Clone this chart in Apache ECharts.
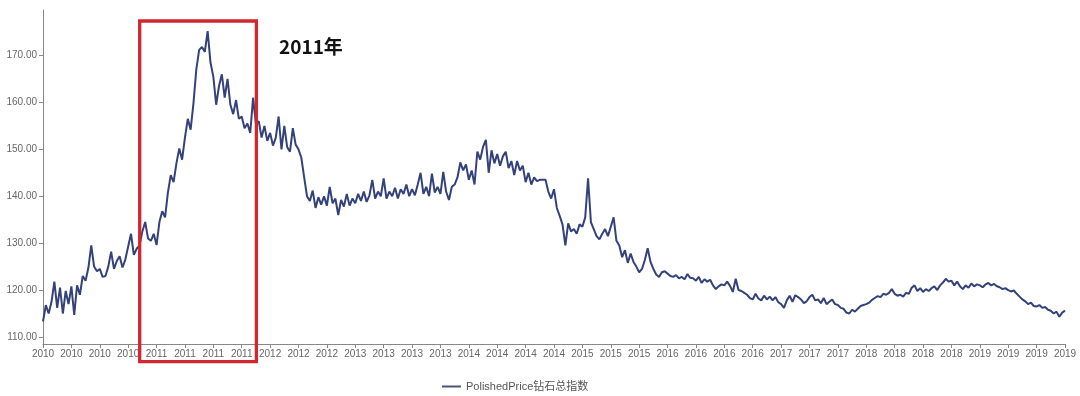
<!DOCTYPE html>
<html>
<head>
<meta charset="utf-8">
<script src="https://cdn.jsdelivr.net/npm/echarts@6/dist/echarts.min.js"></script>
<style>
  html, body { margin: 0; padding: 0; background: #ffffff; }
  #chart { width: 1080px; height: 396px; }
</style>
</head>
<body>
<div id="chart"></div>
<script>
// Tick labels along the x axis (one per 10 data points)
const tickLabels = [
  '2010','2010','2010','2010','2011','2011','2011','2011','2012','2012','2012',
  '2013','2013','2013','2013','2014','2014','2014','2014','2015','2015','2015',
  '2016','2016','2016','2016','2017','2017','2017','2018','2018','2018','2018',
  '2019','2019','2019','2019'
];
const pointsPerTick = 10;

const seriesName = 'PolishedPrice钻石总指数';

// PolishedPrice index values
const polishedPrice = [
  113.3, 116.8, 115.0, 117.5, 121.8, 116.2, 120.5, 115.0, 119.8, 117.0,
  120.8, 114.7, 121.0, 119.0, 123.0, 122.0, 124.8, 129.5, 125.0, 124.0,
  124.5, 122.8, 123.0, 125.0, 128.2, 124.5, 126.2, 127.2, 124.8, 126.5,
  129.3, 132.0, 127.5, 128.8, 129.5, 132.5, 134.5, 131.0, 130.5, 132.0,
  129.6, 134.5, 136.8, 135.5, 140.8, 144.5, 143.0, 147.0, 150.2, 147.8,
  152.5, 156.5, 154.2, 159.8, 167.0, 171.2, 171.8, 170.8, 175.2, 168.5,
  165.5, 159.5, 163.5, 166.0, 161.0, 165.0, 159.5, 157.5, 160.5, 156.5,
  157.0, 154.5, 155.5, 153.5, 161.0, 155.5, 156.0, 152.5, 155.0, 151.8,
  153.5, 150.8, 152.5, 157.0, 150.0, 155.0, 150.5, 149.5, 154.5, 151.0,
  150.0, 148.2, 144.0, 140.0, 139.0, 141.2, 137.5, 139.8, 138.2, 140.0,
  138.0, 142.0, 138.5, 139.5, 136.0, 139.2, 137.8, 140.5, 138.0, 139.5,
  138.5, 140.5, 139.0, 141.0, 138.8, 140.2, 143.5, 139.5, 141.0, 140.0,
  143.8, 139.5, 141.0, 140.0, 141.8, 139.5, 141.5, 140.5, 142.5, 140.0,
  141.5, 140.2, 142.5, 145.0, 140.5, 142.0, 140.0, 144.8, 140.8, 142.0,
  140.5, 145.2, 141.0, 139.2, 142.0, 142.5, 144.0, 147.2, 145.5, 146.8,
  143.5, 145.5, 142.5, 149.5, 147.8, 150.5, 152.0, 145.0, 149.8, 147.0,
  149.0, 146.5, 148.5, 149.5, 146.0, 147.5, 144.5, 147.5, 145.5, 146.5,
  143.0, 145.0, 142.5, 144.0, 143.2, 143.5, 143.5, 143.5, 141.0, 139.5,
  141.5, 137.5, 135.8, 134.0, 129.5, 134.2, 132.5, 133.0, 132.0, 134.0,
  133.5, 135.5, 143.8, 134.5, 133.0, 131.5, 130.8, 132.0, 133.0, 131.5,
  133.5, 135.5, 130.5, 129.5, 127.0, 128.5, 125.8, 127.8, 126.0, 125.0,
  123.8, 124.5, 126.4, 128.9, 126.0, 124.5, 123.3, 122.8, 123.8, 124.0,
  123.5, 123.0, 122.8, 123.2, 122.5, 122.8, 122.3, 123.4, 122.6, 122.5,
  122.0, 122.8, 121.5, 122.3, 121.8, 122.2, 121.0, 120.2, 120.8, 121.2,
  121.0, 121.8, 120.9, 119.6, 122.4, 120.0, 119.8, 119.4, 119.0, 118.3,
  118.0, 119.2, 118.2, 117.8, 118.8, 118.0, 118.6, 117.8, 118.5, 117.4,
  117.0, 116.2, 117.8, 118.8, 117.5, 118.9, 118.5, 118.0, 117.2, 117.6,
  118.5, 119.0, 117.8, 118.0, 117.2, 118.3, 117.0, 117.5, 118.0, 117.0,
  116.8, 116.2, 116.0, 115.2, 115.0, 115.8, 115.4, 116.0, 116.6, 116.8,
  117.0, 117.3, 117.9, 118.3, 118.7, 118.5, 119.2, 119.0, 119.4, 120.2,
  119.2, 118.8, 119.0, 118.6, 119.4, 119.2, 120.5, 121.0, 119.8, 120.4,
  119.6, 120.2, 119.8, 120.4, 120.8, 120.0, 121.0, 121.6, 122.4, 121.8,
  122.0, 121.0, 121.8, 120.8, 120.2, 121.0, 120.5, 121.4, 120.8, 121.2,
  121.0, 120.6, 121.2, 121.5, 121.0, 121.3, 120.8, 120.6, 120.2, 120.4,
  120.0, 119.7, 119.9, 119.2, 118.6, 118.0, 117.6, 117.0, 117.3, 116.6,
  116.5, 116.8, 116.2, 116.4, 115.8, 115.6, 115.0, 115.4, 114.3, 115.2,
  115.6
];

// Category for each point: the year label of its tick segment
const categories = polishedPrice.map((_, i) => tickLabels[Math.floor(i / pointsPerTick)]);

const chart = echarts.init(document.getElementById('chart'), null, { renderer: 'canvas' });
const fontFamily = "'Liberation Sans', 'Noto Sans CJK SC', sans-serif";

chart.setOption({
  animation: false,
  backgroundColor: '#ffffff',
  grid: { left: 43, right: 15, top: 10, bottom: 52, containLabel: false },
  legend: {
    data: [seriesName],
    left: 437,
    top: 376,
    itemWidth: 19,
    itemHeight: 14,
    icon: 'path://M0,6 L19,6 L19,8 L0,8 Z',
    textStyle: { color: '#555', fontSize: 11, fontFamily: fontFamily }
  },
  xAxis: {
    type: 'category',
    data: categories,
    boundaryGap: false,
    axisLine: { show: true, lineStyle: { color: '#888', width: 1 } },
    axisTick: { show: true, interval: pointsPerTick - 1, length: 4, lineStyle: { color: '#888' } },
    axisLabel: {
      interval: pointsPerTick - 1,
      margin: 5,
      color: '#666',
      fontSize: 10,
      fontFamily: fontFamily
    },
    splitLine: { show: false }
  },
  yAxis: {
    type: 'value',
    min: 108.5,
    max: 179.7,
    axisLine: { show: true, lineStyle: { color: '#888', width: 1 } },
    axisTick: { show: true, length: 4, lineStyle: { color: '#888' } },
    axisLabel: {
      showMinLabel: false,
      showMaxLabel: false,
      margin: 6,
      color: '#666',
      fontSize: 10,
      fontFamily: fontFamily,
      formatter: v => v.toFixed(2)
    },
    splitLine: { show: false }
  },
  series: [{
    name: seriesName,
    type: 'line',
    data: polishedPrice,
    symbol: 'none',
    showSymbol: false,
    lineStyle: { color: '#34427a', width: 2 },
    itemStyle: { color: '#4a5578' }
  }],
  graphic: [
    {
      type: 'rect',
      shape: { x: 139.7, y: 21, width: 116.7, height: 340.7 },
      style: { fill: 'none', stroke: '#d0282e', lineWidth: 3.3 },
      z: 100
    },
    {
      type: 'text',
      x: 279,
      y: 47,
      style: {
        text: '2011年',
        fill: '#111',
        font: "bold 19px 'Noto Sans CJK SC', 'Liberation Sans', sans-serif",
        verticalAlign: 'middle',
        align: 'left'
      },
      z: 100
    }
  ]
});
</script>
</body>
</html>
